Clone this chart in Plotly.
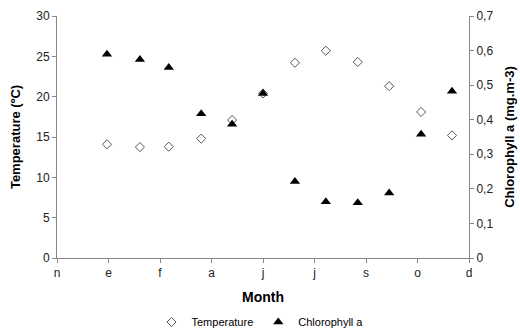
import plotly.graph_objects as go

tick_labels = ["n", "e", "f", "a", "j", "j", "s", "o", "d"]
sample_pos = [0.97, 1.61, 2.17, 2.80, 3.40, 4.0, 4.62, 5.22, 5.84, 6.45, 7.07, 7.67]
temperature = [14.1, 13.75, 13.8, 14.8, 17.1, 20.4, 24.2, 25.7, 24.3, 21.3, 18.1, 15.2]
chlorophyll = [0.589, 0.574, 0.551, 0.417, 0.387, 0.476, 0.221, 0.163, 0.160, 0.188, 0.358, 0.482]

fig = go.Figure()
fig.add_trace(go.Scatter(
    x=sample_pos, y=temperature, name="Temperature", mode="markers",
    marker=dict(symbol="diamond-open", size=7, color="#555555", line=dict(width=1, color="#555555")),
))
fig.add_trace(go.Scatter(
    x=sample_pos, y=chlorophyll, name="Chlorophyll a", mode="markers", yaxis="y2",
    marker=dict(symbol="triangle-up", size=9, color="black"),
))

axis_font = dict(family="Liberation Sans, Arial", size=12, color="#222222")
title_font = dict(family="Liberation Sans, Arial", size=13, color="black")

fig.update_layout(
    width=520, height=329,
    margin=dict(l=57, r=51, t=16, b=71, autoexpand=False),
    plot_bgcolor="white", paper_bgcolor="white",
    separators=",.",
    showlegend=True,
    legend=dict(orientation="h", x=0.5, xanchor="center", xref="container",
                y=7/329, yanchor="middle", yref="container",
                font=dict(family="Liberation Sans, Arial", size=11, color="black"),
                itemwidth=30, tracegroupgap=0),
    xaxis=dict(range=[0, 8], tickvals=list(range(len(tick_labels))), ticktext=tick_labels,
               showgrid=False, zeroline=False, showline=True, linecolor="#888888", linewidth=1,
               ticks="outside", ticklen=4, tickcolor="#888888", tickfont=axis_font, automargin=False,
               title=dict(text="<b>Month</b>", font=dict(family="Liberation Sans, Arial", size=14, color="black"), standoff=12)),
    yaxis=dict(range=[0, 30], dtick=5, showgrid=False, zeroline=False, showline=True,
               linecolor="#888888", linewidth=1, ticks="outside", ticklen=4, tickcolor="#888888",
               tickfont=axis_font, automargin=False,
               title=dict(text="<b>Temperature (ºC)</b>", font=title_font, standoff=12)),
    yaxis2=dict(range=[0, 0.7], dtick=0.1, overlaying="y", side="right", showgrid=False,
                zeroline=False, showline=True, linecolor="#888888", linewidth=1, ticks="outside",
                ticklen=4, tickcolor="#888888", tickfont=axis_font, automargin=False,
                title=dict(text="<b>Chlorophyll a (mg.m-3)</b>", font=title_font, standoff=12)),
)

fig.write_html("out.html")
